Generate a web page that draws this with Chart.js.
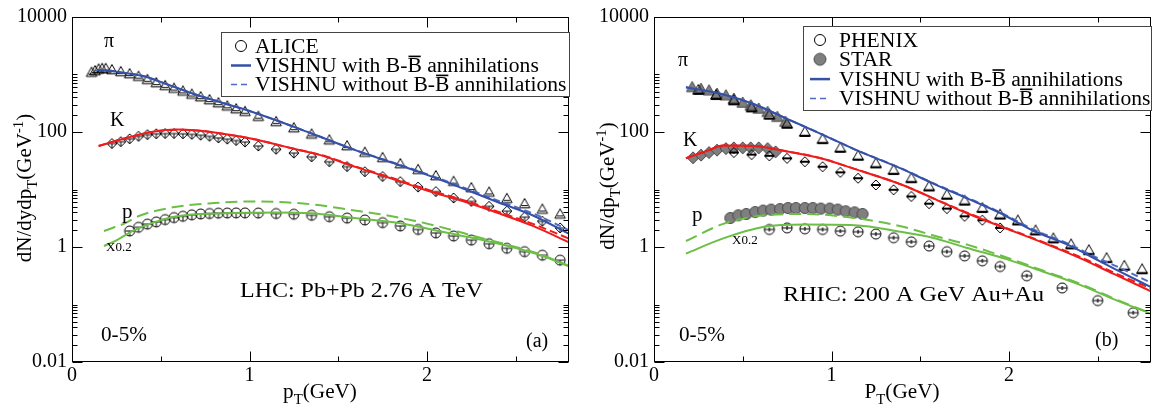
<!DOCTYPE html>
<html>
<head>
<meta charset="utf-8">
<script src="https://cdn.jsdelivr.net/npm/chart.js@4.4.1/dist/chart.umd.min.js"></script>
<style>
  html, body { margin: 0; padding: 0; background: #fff; }
  #wrap { position: relative; width: 1158px; height: 412px; }
  .panel { position: absolute; top: 0; width: 579px; height: 412px; }
</style>
</head>
<body>
<div id="wrap">
  <div class="panel" style="left:0"><canvas id="lhc" width="579" height="412"></canvas></div>
  <div class="panel" style="left:579px"><canvas id="rhic" width="579" height="412"></canvas></div>
</div>
<script>
// ---------- axes ----------
const xMajor = [0, 1, 2];
const xMinor = [0.5, 1.5, 2.5];
const xTickLabels = ['0', '1', '2'];
const yMajor = [0.01, 1, 100, 10000];
const yTickLabels = ['0.01', '1', '100', '10000'];
const yMinorSteps = [2, 3, 4, 5, 6, 7, 8, 9, 10];

// ---------- (a) LHC Pb+Pb 2.76 A TeV, 0-5% ----------
const alicePiPt = [0.11, 0.13, 0.15, 0.17, 0.19, 0.225, 0.275, 0.325, 0.375, 0.425, 0.475, 0.525, 0.575, 0.625, 0.675, 0.725, 0.775, 0.825, 0.875, 0.925, 0.975, 1.05, 1.15, 1.25, 1.35, 1.45, 1.55, 1.65, 1.75, 1.85, 1.95, 2.05, 2.15, 2.25, 2.35, 2.45, 2.55, 2.65, 2.75];
const alicePi = [1080, 1150, 1230, 1260, 1260, 1200, 1110, 1020, 920, 810, 710, 635, 570, 510, 450, 405, 360, 318, 280, 250, 225, 185, 150, 117, 91, 72, 57, 44, 35.5, 27.7, 22, 17.2, 13.7, 10.6, 8.9, 6.9, 5.6, 4.5, 3.7];

const aliceKPt = [0.225, 0.275, 0.325, 0.375, 0.425, 0.475, 0.525, 0.575, 0.625, 0.675, 0.725, 0.775, 0.825, 0.875, 0.925, 0.975, 1.05, 1.15, 1.25, 1.35, 1.45, 1.55, 1.65, 1.75, 1.85, 1.95, 2.05, 2.15, 2.25, 2.35, 2.45, 2.55, 2.65, 2.75];
const aliceK = [63, 68, 76, 84, 90, 93, 94, 94, 93, 91, 88, 84, 79, 75, 71, 67, 57, 50, 43, 37, 30.4, 25, 20.4, 16.8, 13.7, 11, 9.2, 7.1, 6.2, 5.1, 4.2, 3.3, 2.8, 2.15];

const alicePPt = [0.325, 0.375, 0.425, 0.475, 0.525, 0.575, 0.625, 0.675, 0.725, 0.775, 0.825, 0.875, 0.925, 0.975, 1.05, 1.15, 1.25, 1.35, 1.45, 1.55, 1.65, 1.75, 1.85, 1.95, 2.05, 2.15, 2.25, 2.35, 2.45, 2.55, 2.65, 2.75];
const aliceP = [1.9, 2.2, 2.5, 2.73, 3.0, 3.25, 3.42, 3.62, 3.75, 3.82, 3.88, 3.9, 3.92, 3.92, 3.9, 3.82, 3.72, 3.56, 3.36, 3.18, 2.95, 2.65, 2.32, 2.02, 1.76, 1.55, 1.32, 1.14, 0.95, 0.83, 0.72, 0.59];

const lhcPiModelPt = [0.14, 0.2, 0.3, 0.4, 0.55, 0.7, 0.85, 1.0, 1.15, 1.35, 1.6, 1.8, 2.0, 2.2, 2.4, 2.6, 2.8];
const lhcPiWith = [1200, 1170, 1060, 940, 650, 445, 320, 232, 160, 94, 48, 29.5, 18, 10.5, 6.0, 3.5, 1.7];
const lhcPiWithout = [1200, 1170, 1060, 940, 650, 445, 320, 232, 160, 94, 48, 30, 18.5, 11, 6.4, 3.8, 1.95];

const lhcKModelPt = [0.15, 0.3, 0.45, 0.6, 0.75, 0.85, 1.0, 1.13, 1.25, 1.4, 1.6, 1.8, 2.0, 2.2, 2.4, 2.6, 2.8];
const lhcKWith = [57, 78, 100, 110, 103, 93, 78, 63, 51, 39.6, 24.5, 15.5, 9.6, 6.3, 3.9, 2.3, 1.2];
const lhcKWithout = [57, 78, 100, 110, 103, 93, 78, 63, 51, 40, 25, 16, 10, 6.6, 4.1, 2.5, 1.4];

const lhcPWithPt = [0.18, 0.25, 0.34, 0.45, 0.56, 0.7, 0.85, 1.0, 1.15, 1.35, 1.55, 1.85, 2.1, 2.3, 2.5, 2.65, 2.8];
const lhcPWith = [1.04, 1.3, 1.89, 2.6, 3.3, 3.7, 3.85, 3.95, 4.0, 3.85, 3.3, 2.6, 1.8, 1.35, 0.96, 0.7, 0.46];
const lhcPWithoutPt = [0.18, 0.3, 0.38, 0.57, 0.8, 1.0, 1.2, 1.4, 1.55, 1.74, 1.92, 2.06, 2.3, 2.5, 2.65, 2.8];
const lhcPWithout = [1.9, 2.6, 3.5, 4.9, 5.8, 6.2, 6.0, 5.3, 4.5, 3.7, 2.9, 2.3, 1.45, 1.0, 0.72, 0.47];

// ---------- (b) RHIC 200 A GeV Au+Au, 0-5% ----------
const phenixPiPt = [0.25, 0.35, 0.45, 0.55, 0.65, 0.75, 0.85, 0.95, 1.05, 1.15, 1.25, 1.35, 1.45, 1.55, 1.65, 1.75, 1.85, 1.95, 2.05, 2.15, 2.25, 2.35, 2.45, 2.55, 2.65, 2.75];
const phenixPi = [540, 440, 355, 268, 200, 139, 100, 75, 53, 38.6, 28.4, 21.8, 15.7, 11.3, 8.1, 6.4, 4.76, 3.66, 2.89, 1.94, 1.41, 1.11, 0.88, 0.64, 0.47, 0.41];

const starPiPt = [0.215, 0.265, 0.31, 0.355, 0.405, 0.45, 0.5, 0.545, 0.59, 0.64, 0.695, 0.74];
const starPi = [597, 558, 524, 457, 430, 375, 320, 288, 252, 221, 181, 149];

const phenixKPt = [0.45, 0.55, 0.65, 0.75, 0.85, 0.95, 1.05, 1.15, 1.25, 1.35, 1.45, 1.55, 1.65, 1.75, 1.85, 1.95];
const phenixK = [44, 40.5, 38.6, 34.8, 30.4, 24.9, 19.9, 15.7, 12.0, 9.9, 7.57, 5.67, 4.65, 3.42, 2.92, 2.15];

const starKPt = [0.22, 0.265, 0.31, 0.355, 0.405, 0.45, 0.5, 0.545, 0.59, 0.64, 0.685];
const starK = [35.6, 39.7, 44, 48.3, 51.5, 53, 53, 53, 53, 51.5, 45.2];

const phenixPPt = [0.65, 0.75, 0.85, 0.95, 1.05, 1.15, 1.25, 1.35, 1.45, 1.55, 1.65, 1.75, 1.85, 1.95, 2.1, 2.3, 2.5, 2.7];
const phenixP = [2.02, 2.15, 2.07, 2.02, 1.89, 1.84, 1.68, 1.45, 1.23, 1.04, 0.83, 0.70, 0.574, 0.457, 0.316, 0.194, 0.117, 0.072];

const starPPt = [0.43, 0.475, 0.52, 0.57, 0.615, 0.66, 0.71, 0.755, 0.80, 0.85, 0.895, 0.94, 0.99, 1.035, 1.08, 1.13, 1.175];
const starP = [3.2, 3.56, 3.75, 4.06, 4.3, 4.47, 4.57, 4.76, 4.76, 4.76, 4.76, 4.65, 4.65, 4.47, 4.18, 4.01, 3.75];

const rhicPiModelPt = [0.18, 0.38, 0.56, 0.75, 0.94, 1.13, 1.39, 1.57, 1.76, 1.95, 2.14, 2.33, 2.51, 2.6, 2.8];
const rhicPiWith = [600, 457, 307, 169, 93, 50, 23.3, 12.8, 7.1, 3.9, 1.9, 1.1, 0.57, 0.41, 0.2];
const rhicPiWithout = [600, 457, 307, 169, 93, 50, 23.5, 13, 7.3, 4.0, 2.0, 1.15, 0.62, 0.47, 0.24];

const rhicKModelPt = [0.18, 0.3, 0.39, 0.56, 0.75, 0.94, 1.13, 1.4, 1.57, 1.76, 1.95, 2.19, 2.4, 2.59, 2.8];
const rhicKWith = [35, 47, 58, 57, 46, 35, 22.8, 12, 7.1, 3.9, 2.3, 1.19, 0.64, 0.34, 0.17];
const rhicKWithout = [35, 47, 58, 57, 46, 35, 22.8, 12, 7.1, 4.0, 2.35, 1.22, 0.67, 0.36, 0.19];

const rhicPModelPt = [0.18, 0.39, 0.62, 0.85, 1.13, 1.39, 1.57, 1.76, 1.99, 2.19, 2.4, 2.61, 2.8];
const rhicPWith = [0.77, 1.41, 2.24, 2.46, 2.4, 1.84, 1.45, 0.97, 0.61, 0.375, 0.22, 0.117, 0.069];
const rhicPWithout = [1.27, 2.52, 3.56, 3.75, 3.2, 2.3, 1.6, 1.11, 0.65, 0.39, 0.23, 0.12, 0.07];

// ---------- styling ----------
const SERIF = '"Liberation Serif", "Times New Roman", serif';
const BLUE = '#3550a8', BLUE_DASH = '#4f6cc4', RED = '#ee1c1c', GREEN = '#6cbf45';
const GRAY_FILL = '#7f7f7f', GRAY_EDGE = '#4a4a4a';

// small bitmaps used as point styles (symbol plus its error-bar stroke)
function marker(shape, o) {
  const r = o.r;
  const s = 2 * Math.ceil(r) + 6;
  const c = document.createElement('canvas');
  c.width = s; c.height = s;
  const g = c.getContext('2d');
  const m = s / 2;
  g.lineWidth = 1;
  g.strokeStyle = o.stroke || '#000';
  g.beginPath();
  if (shape === 'circle') {
    g.arc(m, m, r, 0, 2 * Math.PI);
  } else if (shape === 'triangle') {
    g.moveTo(m, m - r);
    g.lineTo(m + r * 0.95, m + r * 0.7);
    g.lineTo(m - r * 0.95, m + r * 0.7);
    g.closePath();
  } else {
    g.moveTo(m, m - r); g.lineTo(m + r, m); g.lineTo(m, m + r); g.lineTo(m - r, m); g.closePath();
  }
  if (o.fill) { g.fillStyle = o.fill; g.fill(); }
  g.stroke();
  g.strokeStyle = '#000';
  g.beginPath();
  if (o.bar === 'cross') {
    g.lineWidth = 1;
    g.moveTo(m - r * 0.85, m); g.lineTo(m + r * 0.85, m);
    g.moveTo(m, m); g.lineTo(m, m + r);
    g.stroke();
  } else if (o.bar === 'base') {
    g.lineWidth = 1;
    g.moveTo(m - r * 0.6, m + r * 0.3); g.lineTo(m + r * 0.6, m + r * 0.3);
    g.stroke();
  } else if (o.bar === 'heavyBase') {
    g.lineWidth = 2.2;
    g.moveTo(m - r, m + r * 0.7); g.lineTo(m + r, m + r * 0.7);
    g.stroke();
  } else if (o.bar === 'heavy') {
    g.lineWidth = 2;
    g.moveTo(m - r * 0.9, m); g.lineTo(m + r * 0.9, m);
    g.stroke();
  } else if (o.bar === 'mid') {
    g.lineWidth = 1.2;
    g.moveTo(m - r, m); g.lineTo(m + r, m);
    g.moveTo(m, m - r * 0.4); g.lineTo(m, m + r * 0.4);
    g.stroke();
  }
  return c;
}

const aliceTri = marker('triangle', { r: 5.5, bar: 'base' });
const aliceDia = marker('diamond', { r: 5, bar: 'cross' });
const aliceCirc = marker('circle', { r: 5, bar: 'cross' });
const phxTri = marker('triangle', { r: 5.5, bar: 'heavyBase' });
const phxDia = marker('diamond', { r: 5, bar: 'heavy' });
const phxCirc = marker('circle', { r: 5, bar: 'mid' });
const starTri = marker('triangle', { r: 6, fill: GRAY_FILL, stroke: GRAY_EDGE });
const starDia = marker('diamond', { r: 6, fill: GRAY_FILL, stroke: GRAY_EDGE });
const starCirc = marker('circle', { r: 5.5, fill: GRAY_FILL, stroke: GRAY_EDGE });
const legendOpenCircle = marker('circle', { r: 5.5 });
const legendGrayCircle = marker('circle', { r: 6, fill: GRAY_FILL, stroke: GRAY_EDGE });

const pts = (xs, ys) => xs.map((x, i) => ({ x: x, y: ys[i] }));

function curve(label, xs, ys, color, dash) {
  return {
    label: label, data: pts(xs, ys), borderColor: color, borderWidth: 2,
    borderDash: dash || [], pointRadius: 0, fill: false,
    cubicInterpolationMode: 'monotone'
  };
}
function symbols(label, xs, ys, img) {
  return {
    label: label, data: pts(xs, ys), showLine: false, pointStyle: img,
    pointRadius: 5, borderColor: '#000', backgroundColor: 'transparent'
  };
}

// ---------- text helpers: [text, mode]  mode 0 normal, 1 subscript, 2 superscript, 3 overlined ----------
function partFont(mode, size) {
  return ((mode === 1 || mode === 2) ? Math.round(size * 0.68) : size) + 'px ' + SERIF;
}
function richWidth(ctx, parts, size, st) {
  let w = 0;
  for (const [t, mode] of parts) { ctx.font = partFont(mode, size); w += ctx.measureText(t).width; }
  return w * (st || 1);
}
// draws left-aligned on an alphabetic baseline, widened horizontally by st
function drawRich(ctx, parts, x, y, size, st) {
  st = st || 1;
  ctx.save();
  ctx.translate(x, y);
  ctx.scale(st, 1);
  let cx = 0;
  ctx.textBaseline = 'alphabetic';
  ctx.textAlign = 'left';
  for (const [t, mode] of parts) {
    ctx.font = partFont(mode, size);
    const dy = mode === 1 ? size * 0.28 : (mode === 2 ? -size * 0.42 : 0);
    ctx.fillText(t, cx, dy);
    const w = ctx.measureText(t).width;
    if (mode === 3) ctx.fillRect(cx + 1, -size * 0.82, w - 2, 1.6);
    cx += w;
  }
  ctx.restore();
  return cx * st;
}

const withAnn = [['VISHNU with B-', 0], ['B', 3], [' annihilations', 0]];
const withoutAnn = [['VISHNU without B-', 0], ['B', 3], [' annihilations', 0]];

// frame, inward ticks, axis titles, labels and key of each panel
const decorPlugin = {
  id: 'decor',
  afterDatasetsDraw(chart, args, o) {
    const ctx = chart.ctx, a = chart.chartArea;
    const xs = chart.scales.x, ys = chart.scales.y;
    ctx.save();
    ctx.strokeStyle = '#000';
    ctx.lineWidth = 1;
    const L = Math.round(a.left) + 0.5, R = Math.round(a.right) - 0.5;
    const T = Math.round(a.top) + 0.5, B = Math.round(a.bottom) - 0.5;
    ctx.strokeRect(L, T, R - L, B - T);
    ctx.beginPath();
    const xTick = (v, len) => {
      const p = Math.round(xs.getPixelForValue(v)) + 0.5;
      ctx.moveTo(p, B); ctx.lineTo(p, B - len);
      ctx.moveTo(p, T); ctx.lineTo(p, T + len);
    };
    const yTick = (v, len) => {
      const p = Math.round(ys.getPixelForValue(v)) + 0.5;
      ctx.moveTo(L, p); ctx.lineTo(L + len, p);
      ctx.moveTo(R, p); ctx.lineTo(R - len, p);
    };
    xMajor.forEach(v => xTick(v, 10));
    xMinor.forEach(v => xTick(v, 5));
    yMajor.forEach(v => yTick(v, 10));
    yMajor.slice(0, 3).forEach(m => yMinorSteps.forEach(k => yTick(k * m, 5)));
    ctx.stroke();

    ctx.fillStyle = '#000';
    // axis titles
    const wy = richWidth(ctx, o.yTitle, 20, 1.05);
    ctx.save();
    ctx.translate(o.yTitleX, o.yTitleY);
    ctx.rotate(-Math.PI / 2);
    drawRich(ctx, o.yTitle, -wy / 2, 0, 20, 1.05);
    ctx.restore();
    const wx = richWidth(ctx, o.xTitle, 20, 1.06);
    drawRich(ctx, o.xTitle, o.xTitleX - wx / 2, o.xTitleY, 20, 1.06);

    // in-panel labels
    o.labels.forEach(l => {
      drawRich(ctx, [[l.text, 0]], a.left + l.dx, a.top + l.dy, l.size, l.st || 1);
    });

    // key
    const k = o.key;
    const bx = Math.round(a.right) + 1 - k.width, by = Math.round(a.top) + k.top;
    ctx.fillStyle = '#fff';
    ctx.fillRect(bx, by, k.width, k.height);
    ctx.strokeStyle = '#444';
    ctx.lineWidth = 1;
    ctx.strokeRect(bx + 0.5, by + 0.5, k.width - 1, k.height - 1);
    ctx.fillStyle = '#000';
    k.rows.forEach((row, i) => {
      const cy = by + k.first + i * k.step;
      if (row.img) {
        ctx.drawImage(row.img, bx + k.sym - row.img.width / 2, cy - row.img.height / 2);
      } else {
        ctx.save();
        ctx.strokeStyle = row.color;
        ctx.lineWidth = row.width;
        ctx.setLineDash(row.dash);
        ctx.beginPath();
        ctx.moveTo(bx + k.sym - 10, cy + 0.5);
        ctx.lineTo(bx + k.sym + 10, cy + 0.5);
        ctx.stroke();
        ctx.restore();
      }
      drawRich(ctx, row.text, bx + k.text, cy + 7, 20, 1.08);
    });
    ctx.restore();
  }
};

function makePanel(id, datasets, axisLeft, padRight, decor) {
  return new Chart(document.getElementById(id), {
    type: 'line',
    data: { datasets: datasets },
    options: {
      responsive: false,
      animation: false,
      devicePixelRatio: 1,
      layout: { padding: { left: 0, right: padRight, top: 14, bottom: 0 } },
      plugins: { legend: { display: false }, tooltip: { enabled: false }, decor: decor },
      scales: {
        x: {
          type: 'linear', min: 0, max: 2.8,
          grid: { display: false, drawTicks: false, tickLength: 0 },
          border: { display: false },
          afterBuildTicks: s => { s.ticks = xMajor.map(v => ({ value: v })); },
          afterFit: s => { s.height = 50; },
          ticks: {
            padding: 2, autoSkip: false, maxRotation: 0, color: '#000',
            font: { family: SERIF, size: 20 },
            callback: (v, i) => xTickLabels[i]
          }
        },
        y: {
          type: 'logarithmic', min: 0.01, max: 10000,
          grid: { display: false, drawTicks: false, tickLength: 0 },
          border: { display: false },
          afterBuildTicks: s => { s.ticks = yMajor.map(v => ({ value: v })); },
          afterFit: s => { s.width = axisLeft; },
          ticks: {
            padding: 5, autoSkip: false, color: '#000',
            font: { family: SERIF, size: 20 },
            callback: (v, i) => yTickLabels[i]
          }
        }
      }
    },
    plugins: [decorPlugin]
  });
}

makePanel('lhc', [
  curve('π with', lhcPiModelPt, lhcPiWith, BLUE),
  curve('π without', lhcPiModelPt, lhcPiWithout, BLUE_DASH, [7, 4]),
  curve('K with', lhcKModelPt, lhcKWith, RED),
  curve('K without', lhcKModelPt, lhcKWithout, RED, [8, 4]),
  curve('p with', lhcPWithPt, lhcPWith, GREEN),
  curve('p without', lhcPWithoutPt, lhcPWithout, GREEN, [12, 6]),
  symbols('ALICE π', alicePiPt, alicePi, aliceTri),
  symbols('ALICE K', aliceKPt, aliceK, aliceDia),
  symbols('ALICE p', alicePPt, aliceP, aliceCirc)
], 72, 10, {
  yTitle: [['dN/dydp', 0], ['T', 1], ['(GeV', 0], ['-1', 2], [')', 0]],
  yTitleX: 31, yTitleY: 188,
  xTitle: [['p', 0], ['T', 1], ['(GeV)', 0]],
  xTitleX: 320, xTitleY: 398,
  labels: [
    { text: 'π', dx: 32, dy: 30, size: 20 },
    { text: 'K', dx: 38, dy: 109, size: 20 },
    { text: 'p', dx: 50, dy: 201, size: 21 },
    { text: 'X0.2', dx: 34, dy: 234, size: 13 },
    { text: 'LHC: Pb+Pb 2.76 A TeV', dx: 168, dy: 280, size: 22, st: 1.09 },
    { text: '0-5%', dx: 29, dy: 324, size: 20, st: 1.06 },
    { text: '(a)', dx: 454, dy: 330, size: 20 }
  ],
  key: {
    width: 349, height: 65, top: 15, first: 14, step: 19, sym: 20, text: 34,
    rows: [
      { img: legendOpenCircle, text: [['ALICE', 0]] },
      { color: BLUE, width: 2.5, dash: [], text: withAnn },
      { color: BLUE_DASH, width: 1.5, dash: [6, 4], text: withoutAnn }
    ]
  }
});

makePanel('rhic', [
  curve('π with', rhicPiModelPt, rhicPiWith, BLUE),
  curve('π without', rhicPiModelPt, rhicPiWithout, BLUE_DASH, [7, 4]),
  curve('K with', rhicKModelPt, rhicKWith, RED),
  curve('K without', rhicKModelPt, rhicKWithout, RED, [8, 4]),
  curve('p with', rhicPModelPt, rhicPWith, GREEN),
  curve('p without', rhicPModelPt, rhicPWithout, GREEN, [12, 6]),
  symbols('PHENIX π', phenixPiPt, phenixPi, phxTri),
  symbols('PHENIX K', phenixKPt, phenixK, phxDia),
  symbols('PHENIX p', phenixPPt, phenixP, phxCirc),
  symbols('STAR π', starPiPt, starPi, starTri),
  symbols('STAR K', starKPt, starK, starDia),
  symbols('STAR p', starPPt, starP, starCirc)
], 75, 7, {
  yTitle: [['dN/dp', 0], ['T', 1], ['(GeV', 0], ['-1', 2], [')', 0]],
  yTitleX: 35, yTitleY: 186,
  xTitle: [['P', 0], ['T', 1], ['(GeV)', 0]],
  xTitleX: 323, xTitleY: 398,
  labels: [
    { text: 'π', dx: 24, dy: 49, size: 20 },
    { text: 'K', dx: 29, dy: 129, size: 20 },
    { text: 'p', dx: 38, dy: 204, size: 21 },
    { text: 'X0.2', dx: 78, dy: 227, size: 13 },
    { text: 'RHIC: 200 A GeV Au+Au', dx: 129, dy: 284, size: 22, st: 1.1 },
    { text: '0-5%', dx: 25, dy: 324, size: 20, st: 1.06 },
    { text: '(b)', dx: 441, dy: 329, size: 20 }
  ],
  key: {
    width: 349, height: 85, top: 9, first: 14, step: 19.3, sym: 17, text: 36,
    rows: [
      { img: legendOpenCircle, text: [['PHENIX', 0]] },
      { img: legendGrayCircle, text: [['STAR', 0]] },
      { color: BLUE, width: 2.5, dash: [], text: withAnn },
      { color: BLUE_DASH, width: 1.5, dash: [6, 4], text: withoutAnn }
    ]
  }
});
</script>
</body>
</html>
